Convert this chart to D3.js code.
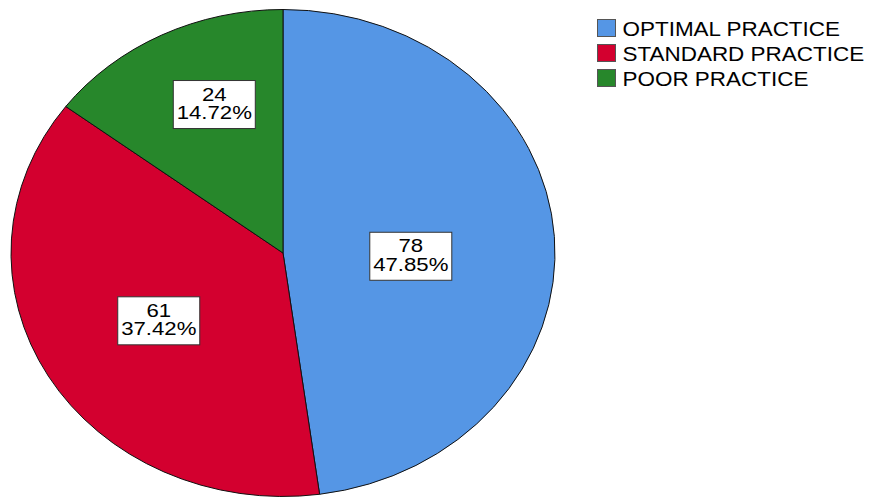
<!DOCTYPE html>
<html>
<head>
<meta charset="utf-8">
<script src="https://cdn.jsdelivr.net/npm/d3@7"></script>
<style>
  body { margin: 0; background: #fff; }
  text { font-family: "Liberation Sans", Arial, sans-serif; fill: #000; }
</style>
</head>
<body>
<div id="chart"></div>
<script>
// pie data
const categories = ["OPTIMAL PRACTICE", "STANDARD PRACTICE", "POOR PRACTICE"];
const counts = [78, 61, 24];
const percents = ["47.85%", "37.42%", "14.72%"];
const colors = ["#5596e5", "#d3002f", "#27872b"];

// where each label box sits inside its slice (fraction of radius, angle nudge in degrees)
const labelRadius = [0.47, 0.535, 0.66];
const labelShift = [5.5, -1, 4];

(function() {
  const W = 869, H = 499;
  const cx = 283, cy = 253;
  const ry = 243.5, rx = 272;
  const sx = rx / ry;

  const svg = d3.select("#chart")
    .append("svg")
    .attr("width", W)
    .attr("height", H);

  const data = categories.map((c, i) => ({ name: c, value: counts[i], pct: percents[i], color: colors[i], i }));

  const pie = d3.pie()
    .sort(null)
    .value(d => d.value);

  const arc = d3.arc()
    .innerRadius(0)
    .outerRadius(ry);

  const arcs = pie(data);

  // draw as a circle and stretch it sideways into the ellipse
  const g = svg.append("g")
    .attr("transform", `translate(${cx},${cy}) scale(${sx},1)`);

  g.selectAll("path")
    .data(arcs)
    .enter()
    .append("path")
    .attr("d", arc)
    .attr("fill", d => d.data.color)
    .attr("stroke", "#111")
    .attr("stroke-width", 1)
    .attr("vector-effect", "non-scaling-stroke");

  // labels
  const boxW = 82, boxH = 48;
  const labels = svg.selectAll(".lbl")
    .data(arcs)
    .enter()
    .append("g")
    .attr("class", "lbl")
    .attr("transform", d => {
      const a = (d.startAngle + d.endAngle) / 2 + labelShift[d.data.i] * Math.PI / 180;
      const r = labelRadius[d.data.i] * ry;
      const x = cx + Math.sin(a) * r * sx;
      const y = cy - Math.cos(a) * r;
      return `translate(${x},${y})`;
    });

  labels.append("rect")
    .attr("x", -boxW / 2)
    .attr("y", -boxH / 2)
    .attr("width", boxW)
    .attr("height", boxH)
    .attr("fill", "#fff")
    .attr("stroke", "#333")
    .attr("stroke-width", 1);

  const lt = labels.append("g")
    .attr("transform", "scale(1.2,1)");

  lt.append("text")
    .attr("text-anchor", "middle")
    .attr("y", -4)
    .style("font-size", "18.5px")
    .text(d => d.data.value);

  lt.append("text")
    .attr("text-anchor", "middle")
    .attr("y", 14.5)
    .style("font-size", "18.5px")
    .text(d => d.data.pct);

  // legend
  const legend = svg.selectAll(".legend")
    .data(data)
    .enter()
    .append("g")
    .attr("class", "legend")
    .attr("transform", (d, i) => `translate(597.5,${19.5 + i * 25})`);

  legend.append("rect")
    .attr("width", 18)
    .attr("height", 17)
    .attr("fill", d => d.color)
    .attr("stroke", "#555")
    .attr("stroke-width", 1);

  legend.append("text")
    .attr("x", 25)
    .attr("y", 16.5)
    .attr("transform", "translate(25,0) scale(1.07,1) translate(-25,0)")
    .style("font-size", "21px")
    .text(d => d.name);
})();
</script>
</body>
</html>
